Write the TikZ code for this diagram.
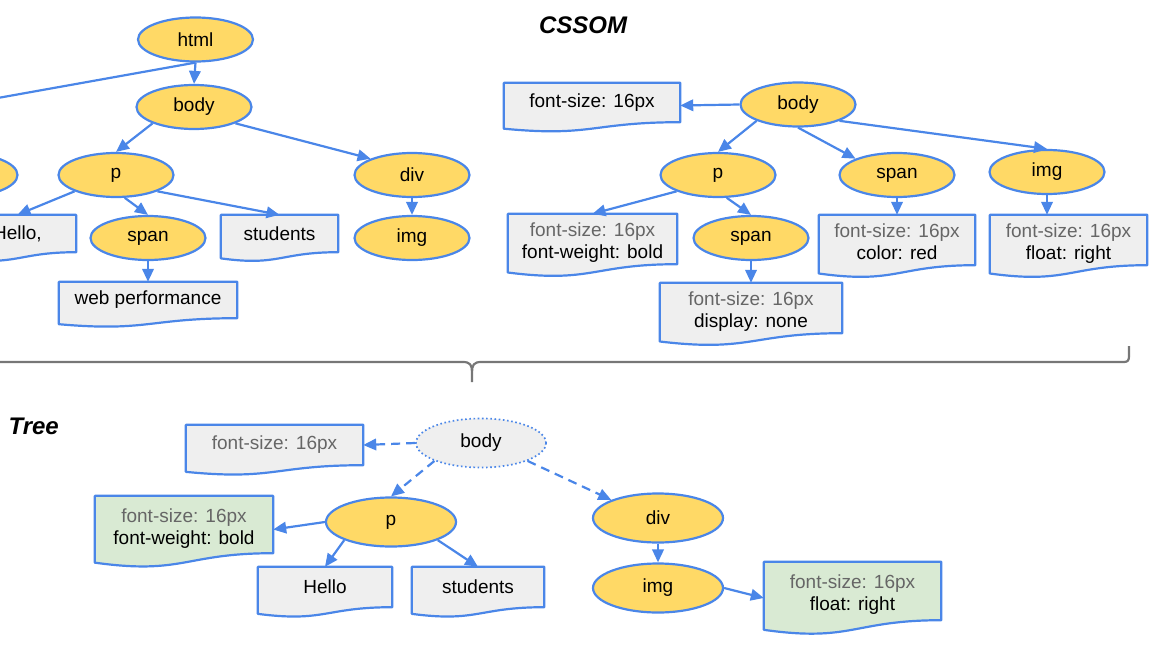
\documentclass[tikz,border=0pt]{standalone}
\usepackage{fontspec}
\setmainfont{Liberation Sans}
\usetikzlibrary{arrows.meta,calc,backgrounds,shapes.geometric}
\definecolor{gblue}{HTML}{4A86E8}
\definecolor{gyellow}{HTML}{FFD966}
\definecolor{ggray}{HTML}{EFEFEF}
\definecolor{ggreen}{HTML}{D9EAD3}
\definecolor{gtext}{HTML}{666666}
\definecolor{bracegray}{HTML}{777777}
\newcommand\docoutline[2]{%
  \path[draw=gblue, line width=2.2pt, fill=#2, line join=round]
   let \p1=(#1.north west), \p2=(#1.south east), \n1={\y1-\y2} in
   (\p1) -- (\x2,\y1) -- (\p2)
   .. controls ({(\x1+\x2)/2},\y2) and ({(\x1+\x2)/2},{\y2-0.38*\n1}) ..
   (\x1,{\y2-0.1646*\n1}) -- cycle;}
\newcommand\twolines[2]{\raisebox{-4.5pt}[\height][\depth]{\begin{tabular}{@{}c@{}}\textcolor{gtext}{#1}\\#2\end{tabular}}}
\tikzset{
  txt/.style={font=\fontsize{19}{22}\selectfont},
  elem/.style={ellipse, draw=gblue, line width=2.2pt, fill=gyellow,
    minimum width=115pt, minimum height=44pt, inner sep=0pt, txt},
  relem/.style={elem, minimum width=130pt, minimum height=49pt},
  ghost/.style={relem, fill=ggray, dash pattern=on 1.6pt off 2.6pt, line width=1.7pt},
  doc/.style={rectangle, inner sep=0pt, align=center, txt},
  inh/.style={text=gtext},
  title/.style={font=\fontsize{24}{28}\selectfont\bfseries\itshape},
  link/.style={draw=gblue, line width=2.2pt},
  arr/.style={link, -{Triangle[length=13pt,width=11.5pt]}},
  darr/.style={arr, dash pattern=on 9pt off 6pt},
  bracepath/.style={draw=bracegray, line width=2.2pt, line join=round}
}
\begin{document}
\begin{tikzpicture}[x=1pt,y=-1pt]
\useasboundingbox (0,0) rectangle (1150,650);

% ---------------- DOM tree (top left) ----------------
\node[elem] (html) at (195.5,39.5) {html};
\node[elem] (dbody) at (194,107) {body};
\node[elem] (dp) at (116,175) {p};
\node[elem] (ddiv) at (412,175) {div};
\node[elem] (dimg) at (412,238) {img};
\node[elem] (dspan) at (148,238) {span};
\node[elem] (dlink) at (-40,175) {};
\coordinate (dhead) at (-100,115.5);
\node[doc, minimum width=117pt, minimum height=37pt] (dhello) at (17.5,233.5) {Hello,};
\node[doc, minimum width=117pt, minimum height=37pt] (dstud) at (279.5,233.5) {students};
\node[doc, minimum width=178pt, minimum height=36pt] (dweb) at (148,300) {web performance};

\draw[link] (html.south) -- (dhead);
\draw[arr] (html.south) -- (dbody.north);
\draw[arr] (dbody.south west) -- (dp.north);
\draw[arr] (dbody.south east) -- (ddiv.north west);
\draw[arr] (dp.south west) -- (dhello.north);
\draw[arr] (dp.-69) -- (dspan.north);
\draw[arr] (dp.south east) -- (dstud.north);
\draw[arr] (ddiv.south) -- (dimg.north);
\draw[arr] (dspan.south) -- (dweb.north);

% ---------------- CSSOM (top right) ----------------
\node[title] (tcssom) at (583,25) {CSSOM};
\node[doc, minimum width=176pt, minimum height=39pt] (cfs) at (592,102.5) {font-size: 16px};
\node[elem] (cbody) at (798,104.5) {body};
\node[elem] (cp) at (718,175) {p};
\node[elem] (cspan) at (897,175) {span};
\node[elem] (cimg) at (1047,172) {img};
\node[elem] (cspan2) at (751,238) {span};
\node[doc, minimum width=169pt, minimum height=50pt] (cpbox) at (592.5,239)
  {\twolines{font-size: 16px}{font-weight: bold}};
\node[doc, minimum width=182pt, minimum height=50pt] (cdisp) at (751,308)
  {\twolines{font-size: 16px}{display: none}};
\node[doc, minimum width=156pt, minimum height=50pt] (ccolor) at (897,240)
  {\twolines{font-size: 16px}{color: red}};
\node[doc, minimum width=157pt, minimum height=50pt] (cfloat) at (1068.5,240)
  {\twolines{font-size: 16px}{float: right}};

\draw[arr] (cbody.west) -- ([yshift=-3pt]cfs.east);
\draw[arr] (cbody.south west) -- (cp.north);
\draw[arr] (cbody.south) -- (cspan.north west);
\draw[arr] (cbody.south east) -- (cimg.north);
\draw[arr] (cp.south west) -- (cpbox.north);
\draw[arr] (cp.-69) -- (cspan2.north);
\draw[arr] (cspan.south) -- (ccolor.north);
\draw[arr] (cimg.south) -- (cimg.south |- cfloat.north);
\draw[arr] (cspan2.south) -- (cdisp.north);

% ---------------- brace ----------------
\path[bracepath] (-20,362) -- (463,362)
  .. controls (470,362) and (472,365) .. (472,372) -- (472,382)
  (472,372) .. controls (472,365) and (474,362) .. (481,362)
  -- (1124,362) .. controls (1128,362) and (1129,360) .. (1129,356) -- (1129,346);

% ---------------- Render tree (bottom) ----------------
\node[title, anchor=west] (ttree) at (5,426) {Tree};
\node[doc, minimum width=177pt, minimum height=40pt, inh] (rfs) at (274.5,445) {font-size: 16px};
\node[ghost] (rbody) at (481,443) {body};
\node[relem] (rp) at (391,522) {p};
\node[relem] (rdiv) at (658,518) {div};
\node[relem] (rimg) at (658,588) {img};
\node[doc, minimum width=178pt, minimum height=57pt] (rgreen) at (184,524.5)
  {\twolines{font-size: 16px}{font-weight: bold}};
\node[doc, minimum width=134pt, minimum height=40pt] (rhello) at (325,587) {Hello};
\node[doc, minimum width=132pt, minimum height=40pt] (rstud) at (478,587) {students};
\node[doc, minimum width=177pt, minimum height=58pt] (rfloat) at (852.5,591)
  {\twolines{font-size: 16px}{float: right}};

\draw[darr] (rbody.west) -- (rfs.east);
\draw[darr] (rbody.south west) -- (rp.north);
\draw[darr] (rbody.south east) -- (rdiv.north west);
\draw[arr] (rp.west) -- ([yshift=-5pt]rgreen.east);
\draw[arr] (rp.south west) -- (rhello.north);
\draw[arr] (rp.south east) -- (rstud.north);
\draw[arr] (rdiv.south) -- (rimg.north);
\draw[arr] (rimg.east) -- ([yshift=-7pt]rfloat.west);

% ---------------- document shapes (behind text) ----------------
\begin{scope}[on background layer]
  \docoutline{dhello}{ggray}
  \docoutline{dstud}{ggray}
  \docoutline{dweb}{ggray}
  \docoutline{cfs}{ggray}
  \docoutline{cpbox}{ggray}
  \docoutline{cdisp}{ggray}
  \docoutline{ccolor}{ggray}
  \docoutline{cfloat}{ggray}
  \docoutline{rfs}{ggray}
  \docoutline{rgreen}{ggreen}
  \docoutline{rhello}{ggray}
  \docoutline{rstud}{ggray}
  \docoutline{rfloat}{ggreen}
\end{scope}
\end{tikzpicture}
\end{document}
